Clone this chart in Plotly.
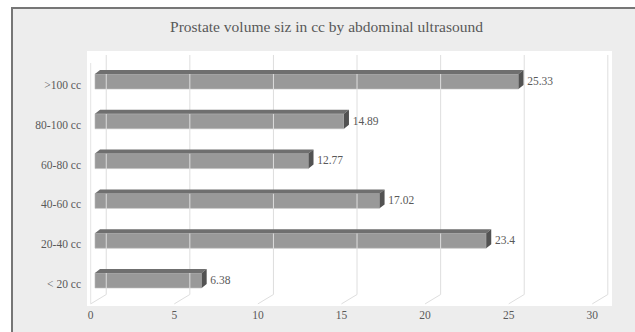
import plotly.graph_objects as go

# Prostate volume groups (bottom to top) and their percentages
categories = ["< 20 cc", "20-40 cc", "40-60 cc", "60-80 cc", "80-100 cc", ">100 cc"]
values = [6.38, 23.4, 17.02, 12.77, 14.89, 25.33]
x_ticks = [0, 5, 10, 15, 20, 25, 30]

TEXT = "#595959"
FONT = "Liberation Serif"

# pseudo-3D projection parameters (axis units)
SHIFT_X = 0.257      # bars sit slightly behind the front floor edge
DEPTH_X = 0.30       # horizontal depth of the bar top / side
DEPTH_Y = 0.10       # vertical depth of the bar top / side
FACE_LO, FACE_HI = -0.10, 0.276   # front face extent around the category
WALL_X = 0.93        # back wall offset of grid lines
FLOOR_FRONT, FLOOR_BACK, GRID_TOP = -0.50, -0.264, 5.754
LABEL_GAP = 0.22     # space between bar side and its value label

pos = list(range(len(categories)))

fig = go.Figure()

# grid lines: slanted along the floor, then up the back wall
gx, gy = [], []
for t in x_ticks:
    gx += [t, t + WALL_X, t + WALL_X, None]
    gy += [FLOOR_FRONT, FLOOR_BACK, GRID_TOP, None]
fig.add_trace(go.Scatter(x=gx, y=gy, mode="lines",
                         line=dict(color="#dedede", width=1),
                         hoverinfo="skip", showlegend=False))
# left side-wall edge
fig.add_trace(go.Scatter(x=[0, 0], y=[FLOOR_FRONT, 5.553], mode="lines",
                         line=dict(color="#e4e4e4", width=1),
                         hoverinfo="skip", showlegend=False))

# front faces of the bars
fig.add_trace(go.Bar(
    y=pos, x=values, base=SHIFT_X, orientation="h",
    width=FACE_HI - FACE_LO, offset=FACE_LO,
    marker=dict(color="#999999", line=dict(color="#bcbcbc", width=0.6)),
    hoverinfo="skip", showlegend=False,
))

# top and side faces
tx, ty, sx, sy = [], [], [], []
for c, v in zip(pos, values):
    x0, x1 = SHIFT_X, SHIFT_X + v
    yb, yt = c + FACE_LO, c + FACE_HI
    tx += [x0, x0 + DEPTH_X, x1 + DEPTH_X, x1, x0, None]
    ty += [yt, yt + DEPTH_Y, yt + DEPTH_Y, yt, yt, None]
    sx += [x1, x1 + DEPTH_X, x1 + DEPTH_X, x1, x1, None]
    sy += [yt, yt + DEPTH_Y, yb + DEPTH_Y, yb, yt, None]
fig.add_trace(go.Scatter(x=tx, y=ty, mode="lines", fill="toself",
                         fillcolor="#6f6f6f", line=dict(width=0, color="#6f6f6f"),
                         hoverinfo="skip", showlegend=False))
fig.add_trace(go.Scatter(x=sx, y=sy, mode="lines", fill="toself",
                         fillcolor="#525252", line=dict(width=0, color="#525252"),
                         hoverinfo="skip", showlegend=False))

# value labels
fig.add_trace(go.Scatter(
    x=[SHIFT_X + v + DEPTH_X + LABEL_GAP for v in values],
    y=[c + 0.075 for c in pos],
    mode="text", text=[f"{v:g}" for v in values],
    textposition="middle right",
    textfont=dict(family=FONT, size=11.5, color=TEXT),
    hoverinfo="skip", showlegend=False,
))

L, R, T, B = 87, 23, 51, 26
W, H = 635 - L - R, 332 - T - B


def px_x(p):
    return (p - L) / W


def px_y(p):
    return (332 - B - p) / H


fig.update_layout(
    width=635, height=332,
    margin=dict(l=L, r=R, t=T, b=B),
    paper_bgcolor="white",
    plot_bgcolor="white",
    title=dict(text="Prostate volume siz in cc by abdominal ultrasound",
               font=dict(family=FONT, size=15.5, color=TEXT),
               x=326.5 / 635, xref="container", xanchor="center",
               y=1 - 27 / 332, yref="container", yanchor="middle"),
    xaxis=dict(range=[-0.221, 31.18], tickvals=x_ticks,
               showgrid=False, zeroline=False, showline=False, ticks="",
               tickfont=dict(family=FONT, size=11.5, color=TEXT)),
    yaxis=dict(range=[-0.553, 5.854], tickvals=pos, ticktext=categories,
               showgrid=False, zeroline=False, showline=False, ticks="",
               ticklabelstandoff=5,
               tickfont=dict(family=FONT, size=11.5, color=TEXT)),
    shapes=[
        dict(type="rect", xref="paper", yref="paper", layer="below",
             x0=px_x(12), x1=1.3, y0=-0.3, y1=px_y(8),
             fillcolor="#ededed", line=dict(color="#767676", width=2)),
        dict(type="rect", xref="paper", yref="paper", layer="below",
             x0=0, x1=1, y0=0, y1=1,
             fillcolor="white", line=dict(width=0)),
    ],
    font=dict(family=FONT, color=TEXT),
)

fig.write_html("out.html")
